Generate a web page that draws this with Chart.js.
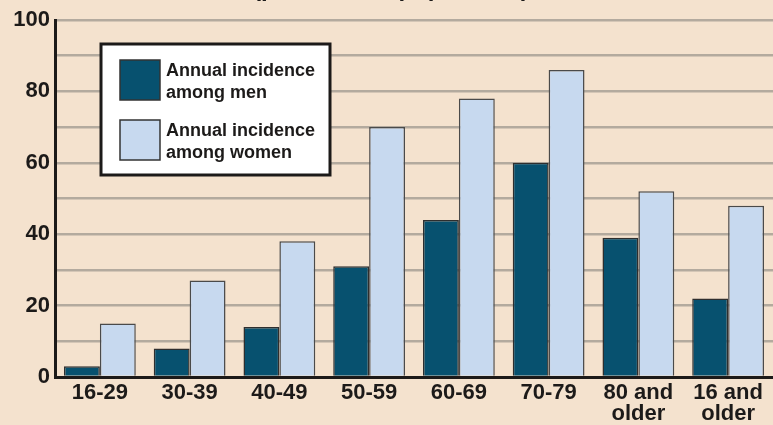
<!DOCTYPE html>
<html>
<head>
<meta charset="utf-8">
<script src="https://cdn.jsdelivr.net/npm/chart.js@4.4.1/dist/chart.umd.min.js"></script>
<style>
  html, body { margin: 0; padding: 0; background: #f4e2ce; }
  #wrap { width: 773px; height: 425px; position: relative; overflow: hidden; }
  canvas { display: block; }
</style>
</head>
<body>
<div id="wrap"><canvas id="c" width="773" height="425"></canvas></div>
<script>
// Age groups (multi-line labels where the group name wraps)
const categories = ['16-29', '30-39', '40-49', '50-59', '60-69', '70-79', ['80 and', 'older'], ['16 and', 'older']];
// Annual incidence per 100,000 population
const menValues = [3, 8, 14, 31, 44, 60, 39, 22];
const womenValues = [15, 27, 38, 70, 78, 86, 52, 48];
const seriesNames = [['Annual incidence', 'among men'], ['Annual incidence', 'among women']];
const titleText = '(per 100,000 population)';

const BG = '#f4e2ce';
const MEN = '#07516f';
const WOMEN = '#c7d9ef';
const INK = '#1c1a19';
const FONT = '"Liberation Sans", Arial, sans-serif';

// Paints the page background behind the plot
const backgroundPlugin = {
  id: 'bg',
  beforeDraw(chart) {
    const ctx = chart.ctx;
    ctx.save();
    ctx.fillStyle = BG;
    ctx.fillRect(0, 0, chart.width, chart.height);
    ctx.restore();
  }
};

// Subtitle line sitting above the plot, partly clipped by the top edge
const subtitlePlugin = {
  id: 'subtitleLine',
  afterDraw(chart) {
    const ctx = chart.ctx;
    const area = chart.chartArea;
    ctx.save();
    ctx.font = 'bold 24px ' + FONT;
    ctx.fillStyle = INK;
    ctx.textAlign = 'center';
    ctx.textBaseline = 'alphabetic';
    ctx.fillText(titleText, 391, area.top - 24);
    ctx.restore();
  }
};

// Boxed legend with square swatches and two-line labels
const boxLegendPlugin = {
  id: 'boxLegend',
  afterDatasetsDraw(chart) {
    const ctx = chart.ctx;
    const area = chart.chartArea;
    const x = area.left + 46, y = area.top + 24, w = 229, h = 131;
    ctx.save();
    ctx.fillStyle = '#ffffff';
    ctx.fillRect(x, y, w, h);
    ctx.lineWidth = 3;
    ctx.strokeStyle = INK;
    ctx.strokeRect(x, y, w, h);
    ctx.font = 'bold 18px ' + FONT;
    ctx.textBaseline = 'alphabetic';
    ctx.textAlign = 'left';
    chart.data.datasets.forEach((ds, i) => {
      const sy = y + 16 + i * 60;
      ctx.fillStyle = ds.backgroundColor;
      ctx.fillRect(x + 19, sy, 40, 40);
      ctx.lineWidth = 1.5;
      ctx.strokeStyle = '#333';
      ctx.strokeRect(x + 19, sy, 40, 40);
      ctx.fillStyle = INK;
      const lines = seriesNames[i];
      lines.forEach((t, k) => ctx.fillText(t, x + 65, sy + 16 + k * 22));
    });
    ctx.restore();
  }
};

new Chart(document.getElementById('c'), {
  type: 'bar',
  data: {
    labels: categories,
    datasets: [
      { label: seriesNames[0].join(' '), data: menValues, backgroundColor: MEN, borderColor: '#2e2e2e', borderWidth: 1.5 },
      { label: seriesNames[1].join(' '), data: womenValues, backgroundColor: WOMEN, borderColor: '#4a4a4a', borderWidth: 1.5 }
    ]
  },
  options: {
    responsive: false,
    animation: false,
    events: [],
    layout: { padding: { top: 20, right: 0, left: 0, bottom: 0 } },
    datasets: { bar: { categoryPercentage: 0.8, barPercentage: 1.0 } },
    plugins: {
      legend: { display: false },
      title: { display: false },
      tooltip: { enabled: false }
    },
    scales: {
      x: {
        grid: { display: false, drawTicks: false },
        border: { display: true, color: INK, width: 3 },
        ticks: {
          color: INK,
          font: { family: FONT, size: 22, weight: 'bold', lineHeight: 0.96 },
          padding: 5,
          maxRotation: 0,
          autoSkip: false
        },
        afterFit(scale) { scale.height = 48; }
      },
      y: {
        min: 0,
        max: 100,
        grid: { color: '#b3aa9e', lineWidth: 2.5, drawTicks: false },
        border: { display: true, color: INK, width: 3 },
        ticks: {
          stepSize: 10,
          color: INK,
          padding: 5,
          font: { family: FONT, size: 22, weight: 'bold' },
          callback: (v) => (v % 20 === 0 ? v : '')
        },
        afterFit(scale) { scale.width = 55; }
      }
    }
  },
  plugins: [backgroundPlugin, subtitlePlugin, boxLegendPlugin]
});
</script>
</body>
</html>
